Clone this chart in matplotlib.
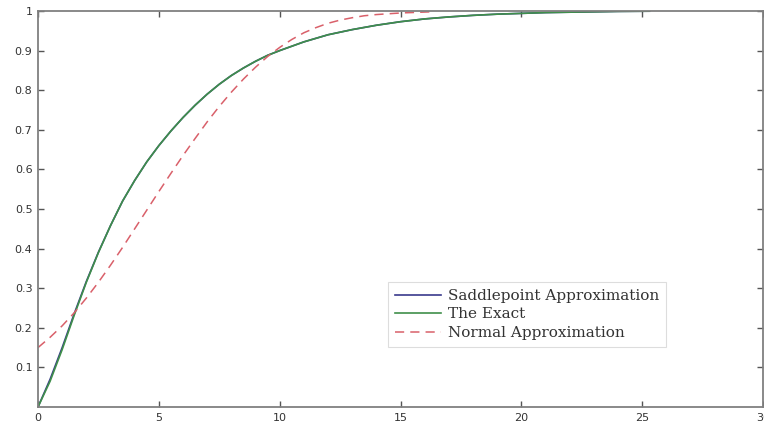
import numpy as np
import matplotlib.pyplot as plt

# values
x_exact = [0, 0.5, 1, 1.5, 2, 2.5, 3, 3.5, 4, 4.5, 5, 5.5, 6, 6.5, 7,
           7.5, 8, 8.5, 9, 9.5, 10, 11, 12, 13, 14, 15, 16, 17, 18, 19, 20,
           21, 22, 23, 24, 25.3]
y_exact = [0, 0.065, 0.145, 0.232, 0.315, 0.39, 0.458, 0.52, 0.572, 0.619,
           0.66, 0.697, 0.731, 0.762, 0.79, 0.815, 0.837, 0.856, 0.873, 0.888,
           0.90, 0.922, 0.94, 0.953, 0.964, 0.973, 0.98, 0.985, 0.989, 0.992,
           0.994, 0.996, 0.997, 0.998, 0.999, 0.9995]

x_saddle = [0, 0.5, 1, 1.5, 2, 2.5, 3, 3.5, 4, 4.5, 5, 5.5, 6, 6.5, 7,
            7.5, 8, 8.5, 9, 9.5, 10, 11, 12, 13, 14, 15, 16, 17, 18, 19, 20,
            21, 22, 23, 24, 25.3]
y_saddle = [0, 0.07, 0.15, 0.236, 0.317, 0.391, 0.458, 0.52, 0.572, 0.619,
            0.66, 0.697, 0.731, 0.762, 0.79, 0.815, 0.837, 0.856, 0.873, 0.888,
            0.90, 0.922, 0.94, 0.953, 0.964, 0.973, 0.98, 0.985, 0.989, 0.992,
            0.994, 0.996, 0.997, 0.998, 0.999, 0.9995]

x_normal = [0, 0.5, 1, 1.5, 2, 2.5, 3, 3.5, 4, 4.5, 5, 5.5, 6, 6.5, 7, 7.5, 8,
            8.5, 9, 9.5, 10, 10.5, 11, 11.5, 12, 12.5, 13, 13.5, 14, 15, 16.3]
y_normal = [0.15, 0.176, 0.205, 0.238, 0.275, 0.315, 0.358, 0.403, 0.45, 0.497,
            0.544, 0.59, 0.635, 0.678, 0.72, 0.759, 0.795, 0.828, 0.858, 0.885,
            0.908, 0.928, 0.945, 0.958, 0.969, 0.977, 0.983, 0.988, 0.991,
            0.995, 0.998]

xticks = [0, 5, 10, 15, 20, 25, 30]
yticks = [0.1, 0.2, 0.3, 0.4, 0.5, 0.6, 0.7, 0.8, 0.9, 1]
ytick_labels = ['0.1', '0.2', '0.3', '0.4', '0.5', '0.6', '0.7', '0.8', '0.9', '1']

fig = plt.figure(figsize=(7.64, 4.24), dpi=100)
ax = fig.add_axes([38 / 764, 17 / 424, 725 / 764, 396 / 424])

ax.plot(x_saddle, y_saddle, color='#3a3a8c', lw=1.2, label='Saddlepoint Approximation')
ax.plot(x_exact, y_exact, color='#3f8f4a', lw=1.2, label='The Exact')
ax.plot(x_normal, y_normal, color='#d9606a', lw=1.1, ls=(0, (6, 4)),
        label='Normal Approximation')

ax.set_xlim(0, 30)
ax.set_ylim(0, 1)
ax.set_xticks(xticks)
ax.set_yticks(yticks)
ax.set_yticklabels(ytick_labels)
ax.tick_params(direction='in', length=4, width=1, color='#555555',
               labelsize=8, labelcolor='#333333', top=True, right=True, pad=4)
for sp in ax.spines.values():
    sp.set_color('#808080')
    sp.set_linewidth(1.3)

leg = ax.legend(loc='upper left', bbox_to_anchor=((388 - 38) / 725, (407 - 282) / 396),
                borderaxespad=0, fancybox=False, edgecolor='#dddddd', framealpha=1,
                prop={'family': 'DejaVu Serif', 'size': 11}, handlelength=3.0,
                handletextpad=0.45, labelspacing=0.3, borderpad=0.45)
leg.get_frame().set_linewidth(0.8)
for t in leg.get_texts():
    t.set_color('#333333')

fig.savefig('out.png', dpi=100)
